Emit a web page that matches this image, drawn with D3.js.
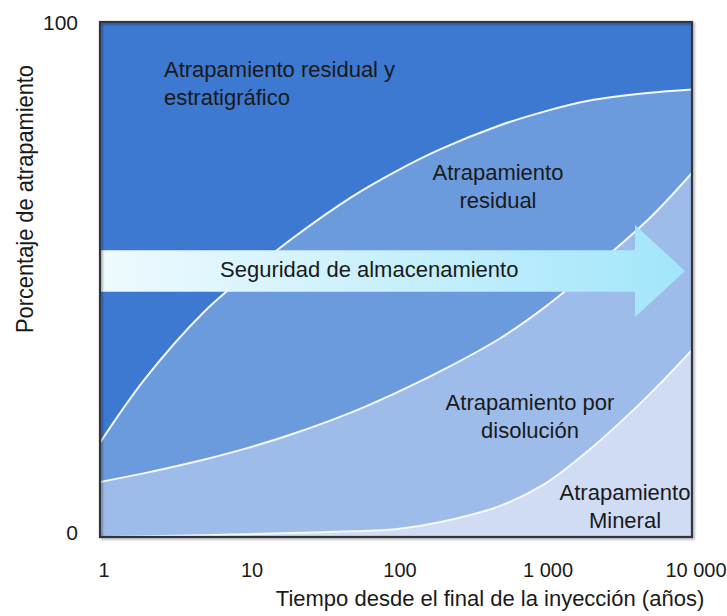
<!DOCTYPE html>
<html>
<head>
<meta charset="utf-8">
<script src="https://cdn.jsdelivr.net/npm/d3@7"></script>
<style>
  body { margin: 0; background: #fff; }
  text { font-family: "Liberation Sans", Arial, sans-serif; fill: #1a1a1a; }
</style>
</head>
<body>
<div id="chart"></div>
<script>
// years after end of injection (log axis)
var years = [1, 2, 5, 10, 20, 50, 100, 200, 500, 1000, 2000, 5000, 10000];
// cumulative boundaries (% of trapping)
var mineralTop     = [0, 0.15, 0.35, 0.55, 0.8, 1.1, 1.5, 2.9, 6.0, 10.2, 16.8, 27.3, 36.3];
var dissolutionTop = [10.7, 12.4, 15, 17.3, 20, 24.2, 28, 32.2, 38.5, 44.5, 51.5, 61.5, 70.7];
var residualTop    = [18.3, 30.6, 43.6, 51.1, 58, 66, 71, 75.3, 79.9, 82.6, 84.7, 86.2, 86.9];

var xTicks = [1, 10, 100, 1000, 10000];
var xTickLabels = ["1", "10", "100", "1 000", "10 000"];
var yTicks = [0, 100];

// arrow "Seguridad de almacenamiento" in data units
var arrowYears = [1, 4120, 8970];       // start, head base, tip
var arrowPct = [55.7, 47.6, 60.6, 42.7]; // body top, body bottom, head top, head bottom

var W = 727, H = 616;
var margin = {top: 22, right: 35, bottom: 79, left: 100};
var width = W - margin.left - margin.right,
    height = H - margin.top - margin.bottom;

var svg = d3.select("#chart").append("svg")
    .attr("width", W).attr("height", H);

var defs = svg.append("defs");
var grad = defs.append("linearGradient").attr("id", "arrowGrad")
    .attr("x1", "0%").attr("x2", "100%").attr("y1", "0%").attr("y2", "0%");
grad.append("stop").attr("offset", "0%").attr("stop-color", "#eefafe");
grad.append("stop").attr("offset", "100%").attr("stop-color", "#a2e6fa");

var shadow = defs.append("filter").attr("id", "shadow")
    .attr("x", "-5%").attr("y", "-5%").attr("width", "110%").attr("height", "110%");
shadow.append("feDropShadow").attr("dx", 1.5).attr("dy", 1.5)
    .attr("stdDeviation", 1.2).attr("flood-color", "#000").attr("flood-opacity", 0.35);

defs.append("clipPath").attr("id", "plotClip")
  .append("rect").attr("width", width).attr("height", height);

var g = svg.append("g")
    .attr("transform", "translate(" + margin.left + "," + margin.top + ")");
var plot = g.append("g").attr("clip-path", "url(#plotClip)");

var x = d3.scaleLog().domain([1, 10000]).range([0, width]);
var y = d3.scaleLinear().domain([0, 100]).range([height, 0]);

var rows = years.map(function(t, i) {
  return {t: t, m: mineralTop[i], d: dissolutionTop[i], r: residualTop[i]};
});

var curve = d3.curveCatmullRom.alpha(0.5);

function band(lo, hi) {
  return d3.area()
    .x(function(d) { return x(d.t); })
    .y0(function(d) { return y(lo(d)); })
    .y1(function(d) { return y(hi(d)); })
    .curve(curve);
}

// regions, top to bottom
plot.append("rect").attr("width", width).attr("height", height).attr("fill", "#3d78d1");
plot.append("path").datum(rows).attr("fill", "#6c9bdd")
  .attr("d", band(function() { return 0; }, function(d) { return d.r; }));
plot.append("path").datum(rows).attr("fill", "#9ebce9")
  .attr("d", band(function() { return 0; }, function(d) { return d.d; }));
plot.append("path").datum(rows).attr("fill", "#cfdcf3")
  .attr("d", band(function() { return 0; }, function(d) { return d.m; }));

// white boundary lines
["r", "d", "m"].forEach(function(k) {
  var line = d3.line()
    .x(function(d) { return x(d.t); })
    .y(function(d) { return y(d[k]); })
    .curve(curve);
  plot.append("path").datum(rows)
    .attr("fill", "none")
    .attr("stroke", "#f4f8ff")
    .attr("stroke-width", 2)
    .attr("d", line);
});

// arrow
var ax = arrowYears.map(function(v) { return x(v); });
var ay = arrowPct.map(function(v) { return y(v); });
var mid = (ay[0] + ay[1]) / 2;
plot.append("path")
  .attr("fill", "url(#arrowGrad)")
  .attr("d", "M" + ax[0] + "," + ay[0] + "L" + ax[1] + "," + ay[0] +
             "L" + ax[1] + "," + ay[2] + "L" + ax[2] + "," + mid +
             "L" + ax[1] + "," + ay[3] + "L" + ax[1] + "," + ay[1] +
             "L" + ax[0] + "," + ay[1] + "Z");

// plot frame
g.append("rect")
  .attr("width", width).attr("height", height)
  .attr("fill", "none").attr("stroke", "#30343c").attr("stroke-width", 2.2)
  .attr("filter", "url(#shadow)");

// region labels
function label(lines, px, py, anchor) {
  var t = svg.append("text").attr("font-size", 22).attr("text-anchor", anchor);
  lines.forEach(function(s, i) {
    t.append("tspan").attr("x", px).attr("y", py + i * 28).text(s);
  });
}
label(["Atrapamiento residual y", "estratigráfico"], 164, 77, "start");
label(["Atrapamiento", "residual"], 498, 180, "middle");
label(["Atrapamiento por", "disolución"], 530, 410, "middle");
label(["Atrapamiento", "Mineral"], 625, 500, "middle");
svg.append("text").attr("x", 220).attr("y", 277).attr("font-size", 22)
  .text("Seguridad de almacenamiento");

// axes (labels only, no tick lines)
g.selectAll(".xt").data(xTicks).enter().append("text")
  .attr("class", "xt")
  .attr("x", function(d) { return x(d) + 4; })
  .attr("y", height + 40)
  .attr("text-anchor", "middle")
  .attr("font-size", 20)
  .text(function(d, i) { return xTickLabels[i]; });

g.selectAll(".yt").data(yTicks).enter().append("text")
  .attr("class", "yt")
  .attr("x", -22)
  .attr("y", function(d) { return y(d) + (d === 0 ? 3 : 8); })
  .attr("text-anchor", "end")
  .attr("font-size", 21)
  .text(function(d) { return d; });

svg.append("text")
  .attr("x", 490).attr("y", 606)
  .attr("text-anchor", "middle")
  .attr("font-size", 22)
  .text("Tiempo desde el final de la inyección (años)");

svg.append("text")
  .attr("transform", "translate(33,199) rotate(-90)")
  .attr("text-anchor", "middle")
  .attr("font-size", 24)
  .attr("textLength", 268)
  .attr("lengthAdjust", "spacingAndGlyphs")
  .text("Porcentaje de atrapamiento");
</script>
</body>
</html>
